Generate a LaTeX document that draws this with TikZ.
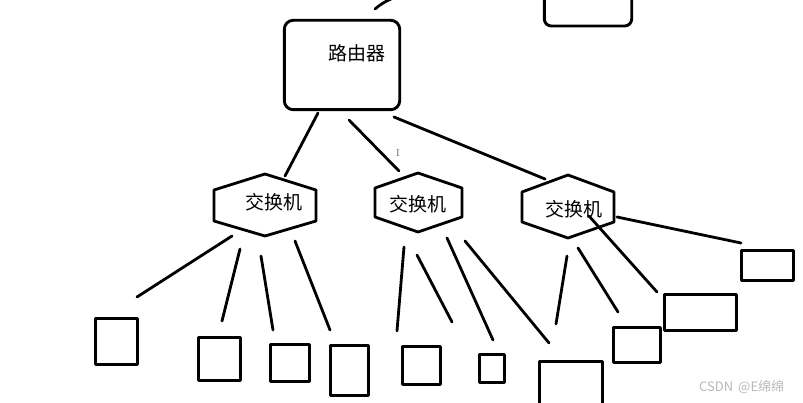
\documentclass[tikz,border=0pt]{standalone}
\usepackage{fontspec}
\newfontfamily\cjk{Noto Sans CJK SC}
\begin{document}
\begin{tikzpicture}[x=1pt,y=-1pt,line join=round,
  lnk/.style={line width=2.8pt,line cap=round},
  boxs/.style={draw,line width=2.9pt,inner sep=0pt,outer sep=0pt,anchor=north west},
  hexs/.style={line width=2.8pt},
  lbl/.style={font=\cjk\fontsize{19}{19}\selectfont,inner sep=0pt}]
\useasboundingbox (0,0) rectangle (803,403);
\clip (0,0) rectangle (803,403);
\fill[white] (0,0) rectangle (803,403);

% top partial elements
\coordinate (t1) at (375,9);
\coordinate (t2) at (391,-1);
\draw[lnk] (t1) to[bend left=8] (t2);
\node[boxs,rounded corners=7pt,minimum width=87.4pt,minimum height=36pt] (top) at (544.3,-10) {};

% router
\node[boxs,rounded corners=9pt,minimum width=115.4pt,minimum height=89.4pt] (router) at (284.3,20.3) {};
\node[lbl] (rt) at (357,53) {路由器};

% switches
\draw[hexs] (265,174) -- (316,190) -- (316,221) -- (265,236) -- (214,221) -- (214,190) -- cycle;
\node[lbl] (h1) at (274,202) {交换机};
\draw[hexs] (418,173) -- (462,188) -- (462,217) -- (418,232) -- (375,217) -- (375,188) -- cycle;
\node[lbl] (h2) at (418,204) {交换机};
\draw[hexs] (568,175) -- (614,192) -- (614,222) -- (568,238) -- (522,222) -- (522,192) -- cycle;
\node[lbl] (h3) at (574,209) {交换机};

\node[font=\fontsize{10}{10}\selectfont,text=gray!80!black,inner sep=0pt] (cur) at (398,153) {I};

% router links
\coordinate (r1) at (318,113); \coordinate (s1) at (285,176);
\coordinate (r2) at (349,120); \coordinate (s2) at (399,171);
\coordinate (r3) at (394,117); \coordinate (s3) at (545,179);
\draw[lnk] (r1) -- (s1);
\draw[lnk] (r2) -- (s2);
\draw[lnk] (r3) -- (s3);

% end boxes
\node[boxs,minimum width=42.4pt,minimum height=46.4pt] (b1) at (95.3,318.3) {};
\node[boxs,minimum width=42.4pt,minimum height=43.4pt] (b2) at (198.3,337.3) {};
\node[boxs,minimum width=39.4pt,minimum height=37.4pt] (b3) at (270.3,344.3) {};
\node[boxs,minimum width=38.4pt,minimum height=50.4pt] (b4) at (330.3,345.3) {};
\node[boxs,minimum width=38.4pt,minimum height=38.4pt] (b5) at (402.3,346.3) {};
\node[boxs,minimum width=25.4pt,minimum height=28.4pt] (b6) at (479.3,354.3) {};
\node[boxs,minimum width=63.4pt,minimum height=50pt] (b7) at (539.3,361.3) {};
\node[boxs,minimum width=52.4pt,minimum height=30.4pt] (b8) at (741.3,250.3) {};
\node[boxs,minimum width=47.4pt,minimum height=35.4pt] (b10) at (613.3,327.3) {};
\node[boxs,minimum width=72.4pt,minimum height=36.4pt] (b9) at (664.3,294.3) {};

% switch 1 links
\coordinate (a1) at (232,236); \coordinate (a2) at (137,297);
\coordinate (c1) at (240,249); \coordinate (c2) at (222,321);
\coordinate (d1) at (261,256); \coordinate (d2) at (273,330);
\coordinate (e1) at (295,241); \coordinate (e2) at (330,330);
\draw[lnk] (a1) -- (a2);
\draw[lnk] (c1) -- (c2);
\draw[lnk] (d1) -- (d2);
\draw[lnk] (e1) -- (e2);

% switch 2 links
\coordinate (f1) at (404,247); \coordinate (f2) at (397,331);
\coordinate (g1) at (417,255); \coordinate (g2) at (452,322);
\coordinate (k1) at (447,238); \coordinate (k2) at (493,340);
\coordinate (m1) at (465,241); \coordinate (m2) at (549,343);
\draw[lnk] (f1) -- (f2);
\draw[lnk] (g1) -- (g2);
\draw[lnk] (k1) -- (k2);
\draw[lnk] (m1) -- (m2);

% switch 3 links
\coordinate (n1) at (567,256); \coordinate (n2) at (556,324);
\coordinate (p1) at (578,248); \coordinate (p2) at (618,312);
\coordinate (q1) at (589,216); \coordinate (q2) at (657,292);
\coordinate (u1) at (617,217); \coordinate (u2) at (741,243);
\draw[lnk] (n1) -- (n2);
\draw[lnk] (p1) -- (p2);
\draw[lnk] (q1) -- (q2);
\draw[lnk] (u1) -- (u2);

% watermark
\node[font=\cjk\fontsize{13}{13}\selectfont,text=gray!55,inner sep=0pt,anchor=west] (wm) at (699,387) {CSDN\hspace{5pt}@E绵绵};
\end{tikzpicture}
\end{document}
